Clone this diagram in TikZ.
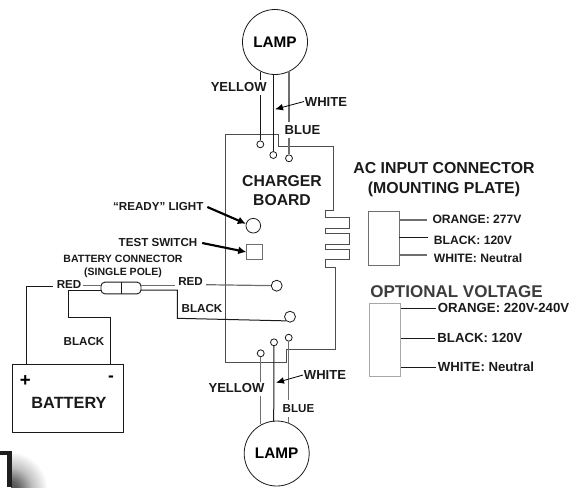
\documentclass[tikz,border=0pt]{standalone}
\usepackage{fontspec}
\setmainfont{Liberation Sans}
\usetikzlibrary{arrows.meta, positioning}
\definecolor{wireblack}{HTML}{1A1A1A}
\definecolor{wiregray}{HTML}{6E6E6E}
\pgfdeclareradialshading{cornerglow}{\pgfpoint{0bp}{0bp}}{color(0bp)=(black!72); color(6bp)=(black!62); color(15bp)=(black!25); color(25bp)=(white); color(50bp)=(white)}

\begin{document}
\begin{tikzpicture}[x=0.75pt, y=-0.75pt]
% Define styles
\tikzset{
  wire/.style={draw=wireblack, line width=0.75pt},
  graywire/.style={draw=wiregray, line width=0.9pt},
  lampcircle/.style={circle, draw=wireblack, line width=0.6pt, minimum size=48.75pt, inner sep=0pt, font=\bfseries\fontsize{11.5}{12}\selectfont},
  terminal/.style={circle, draw=wireblack, fill=white, line width=0.6pt, minimum size=5.2pt, inner sep=0pt},
  label/.style={inner sep=0.5pt, text=wireblack, font=\bfseries\fontsize{8.7}{10}\selectfont},
  biglabel/.style={inner sep=0.5pt, text=wireblack, font=\bfseries\fontsize{9.8}{10}\selectfont},
  smalllabel/.style={inner sep=0.5pt, text=wireblack, font=\bfseries\fontsize{7.9}{10.2}\selectfont},
  plate/.style={inner sep=3pt, text=wireblack, font=\bfseries\fontsize{9.1}{10}\selectfont},
  optplate/.style={inner sep=1.5pt, text=wireblack, font=\bfseries\fontsize{9.9}{10}\selectfont},
  heading/.style={inner sep=0.5pt, text=wireblack, align=center, font=\bfseries\fontsize{11.9}{15}\selectfont},
  pointer/.style={draw=black, line width=1.6pt, -{Latex[length=6pt, width=6pt]}},
  thinpointer/.style={draw=black, line width=0.6pt, -{Latex[length=6pt, width=5pt]}},
  plug/.style={rectangle, draw=wiregray, line width=0.7pt, inner sep=0pt}
}
\useasboundingbox (0,0) rectangle (582,487);

% Board outline
\draw[wire, draw=wiregray!70!black] (225,134) -- (278,134) -- (278,146) -- (333,146) -- (333,210) -- (325,210) -- (325,217) -- (349,217) -- (349,228) -- (325,228) -- (325,233) -- (349,233) -- (349,244) -- (325,244) -- (325,249) -- (349,249) -- (349,259) -- (325,259) -- (325,267.5) -- (335.5,267.5) -- (335.5,349) -- (286,349) -- (286,362) -- (225,362) -- cycle;
\node[heading, font=\bfseries\fontsize{11.8}{14.25}\selectfont] (boardlabel) at (282,190.5) {CHARGER\\BOARD};

% Top lamp
\node (lamptop) [lampcircle] at (275,42) {LAMP};
\node (ttopy) [terminal] at (260.3,144.3) {};
\node (ttopw) [terminal] at (273.3,155) {};
\node (ttopb) [terminal] at (289,158.3) {};
\node (ytop) [biglabel] at (238.7,87) {YELLOW};
\node (btop) [biglabel] at (302.5,130) {BLUE};
\node (wtop) [biglabel] at (326,101.5) {WHITE};
\coordinate (wtopwire) at (275,109.3);
\draw[wire] (ttopy) -- (260.3,95);
\draw[wire] (260.3,80) -- (260.3,72);
\draw[wire] (ttopw) -- (273.3,74.3);
\draw[graywire] (ttopb) -- (289,138);
\draw[graywire] (289,122) -- (289,71);
\draw[thinpointer] (wtop.west) -- (wtopwire);

% Bottom lamp
\node (lampbot) [lampcircle] at (276.7,453.5) {LAMP};
\node (tboty) [terminal] at (260.7,353.3) {};
\node (tbotw) [terminal] at (274,342.3) {};
\node (tbotb) [terminal] at (288.7,337.7) {};
\node (ybot) [biglabel] at (236.5,388) {YELLOW};
\node (bbot) [label] at (298.5,409) {BLUE};
\node (wbot) [biglabel] at (325,375) {WHITE};
\coordinate (wbotwire) at (276,382.7);
\draw[graywire] (tboty) -- (260.7,382);
\draw[graywire] (260.7,396) -- (260.7,424);
\draw[wire] (tbotw) -- (273.7,421.7);
\draw[graywire] (tbotb) -- (288.7,400);
\draw[graywire] (288.7,417) -- (288.7,424);
\draw[thinpointer] (wbot.west) -- (wbotwire);

% Light and switch
\node (readylight) [circle, draw=wireblack, line width=0.6pt, minimum size=11pt, inner sep=0pt] at (253.3,225.7) {};
\node (testswitch) [rectangle, draw=wiregray, line width=0.9pt, minimum size=11.5pt, inner sep=0pt] at (254.5,252) {};
\node (readylabel) [label] at (158.3,206) {``READY'' LIGHT};
\node (testlabel) [label] at (158,242) {TEST SWITCH};
\draw[pointer] (readylabel.east) ++(3,1) -- (readylight.165);
\draw[pointer] (testlabel.east) ++(4,1) -- (testswitch.west);

% Battery connector
\node (connlabel) [smalllabel, align=center] at (123,266.5) {BATTERY CONNECTOR\\(SINGLE POLE)};
\node (conn) [rectangle, rounded corners=3pt, draw=wireblack, line width=0.7pt, minimum width=30pt, minimum height=8.8pt, inner sep=0pt] at (121,288) {};
\draw[wire] (conn.north) -- (conn.south);
\node (redl) [label] at (69,284) {RED};
\node (redr) [label] at (190.5,282) {RED};
\node (blackr) [label] at (202,308) {BLACK};
\node (blackl) [label] at (84,341) {BLACK};
\node (tred) [terminal, minimum size=8.2pt] at (276.7,285.7) {};
\node (tblack) [terminal, minimum size=8.2pt] at (290,316.7) {};
\coordinate (connla) at (101,285.5);
\coordinate (connlb) at (101,290);
\coordinate (connra) at (141,285.5);
\coordinate (connrb) at (141,290);
\draw[graywire] (connla) -- (83,285.5);
\draw[graywire] (connra) -- (175,285.5);
\draw[graywire] (206,284.7) -- (tred);
\draw[wire] (connlb) -- (68.5,290) -- (68.5,317.7) -- (110,317.7) -- (110,364.5);
\draw[wire] (connrb) -- (177.3,290) -- (177.3,318.3) -- (tblack.south west);

% Battery
\node (battery) [rectangle, draw=wireblack, line width=0.8pt, minimum width=83pt, minimum height=51.3pt, inner sep=0pt] at (68,398.5) {};
\node (batterylabel) [inner sep=0pt, text=wireblack, font=\bfseries\fontsize{12.2}{13}\selectfont] at (69,402.7) {BATTERY};
\node (plus) [inner sep=0pt, font=\bfseries\fontsize{14}{14}\selectfont] at (25.3,381) {+};
\node (minus) [inner sep=0pt, font=\bfseries\fontsize{13}{13}\selectfont] at (111,379) {-};
\draw[wire] (redl.west) ++(-3,2.7) -- (26.7,286.7) -- (26.7,364.5);

% AC input connector
\node (aclabel) [heading] at (444,179.5) {AC INPUT CONNECTOR\\(MOUNTING PLATE)};
\node (acplug) [plug, minimum width=23.25pt, minimum height=40.5pt] at (383.5,238) {};
\node (acorange) [plate] at (477,219.5) {ORANGE: 277V};
\node (acblack) [plate] at (473,240) {BLACK: 120V};
\node (acwhite) [plate] at (478,258) {WHITE: Neutral};
\draw[graywire] (acplug.east |- 0,220) -- (427,220);
\draw[wire] (acplug.east |- 0,237) -- (428,237);
\draw[graywire] (acplug.east |- 0,255) -- (427,255);

% Optional voltage
\node (optlabel) [heading, font=\bfseries\fontsize{12.75}{13}\selectfont, text=wireblack!85] at (456.5,291.5) {OPTIONAL VOLTAGE};
\node (optplug) [plug, minimum width=23.7pt, minimum height=54.7pt, draw=wiregray!60] at (385,340.3) {};
\node (optorange) [optplate] at (503.5,308) {ORANGE: 220V-240V};
\node (optblack) [optplate] at (480,338) {BLACK: 120V};
\node (optwhite) [optplate] at (486,367) {WHITE: Neutral};
\draw[wire] (optplug.east |- optorange.west) -- (optorange.west);
\draw[wire] (optplug.east |- optblack.west) -- (optblack.west);
\draw[wire] (optplug.east |- optwhite.west) -- (optwhite.west);

% Corner fragment
\begin{scope}
\clip (11,450) rectangle (50,487);
\shade[shading=cornerglow] (9,490) circle (29pt);
\end{scope}
\fill[black!88] (0,450.5) rectangle (11.5,455);
\fill[black!88] (6.5,450.5) rectangle (11.5,487);
\end{tikzpicture}
\end{document}
